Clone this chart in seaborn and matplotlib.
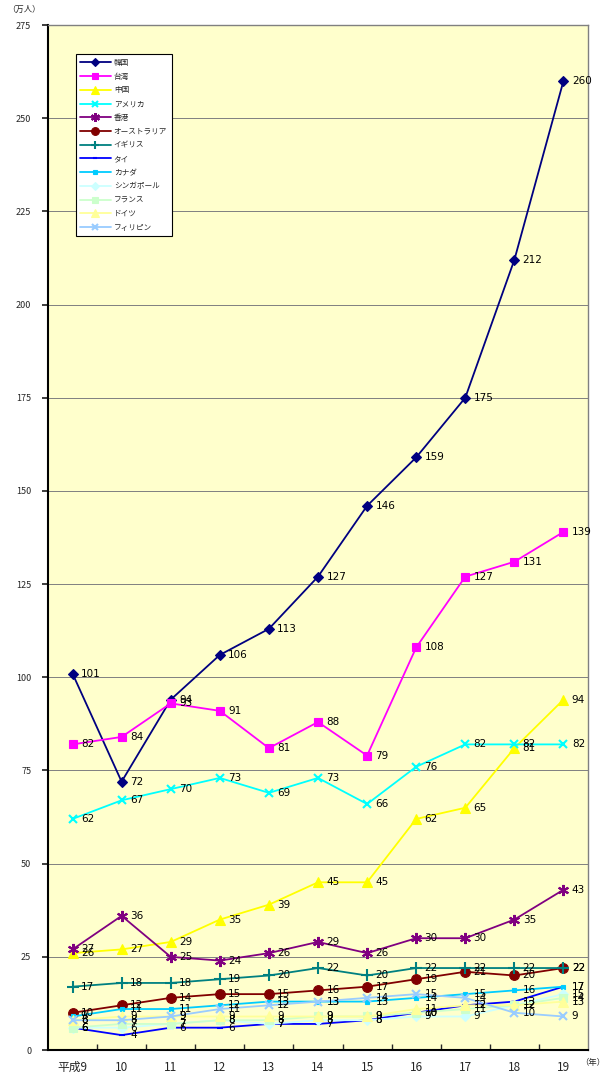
import matplotlib
matplotlib.use("Agg")
import matplotlib.pyplot as plt
import seaborn as sns
import pandas as pd

years = [9, 10, 11, 12, 13, 14, 15, 16, 17, 18, 19]
year_labels = ["平成9", "10", "11", "12", "13", "14", "15", "16", "17", "18", "19"]

korea = [101, 72, 94, 106, 113, 127, 146, 159, 175, 212, 260]
taiwan = [82, 84, 93, 91, 81, 88, 79, 108, 127, 131, 139]
china = [26, 27, 29, 35, 39, 45, 45, 62, 65, 81, 94]
usa = [62, 67, 70, 73, 69, 73, 66, 76, 82, 82, 82]
hongkong = [27, 36, 25, 24, 26, 29, 26, 30, 30, 35, 43]
australia = [10, 12, 14, 15, 15, 16, 17, 19, 21, 20, 22]
uk = [17, 18, 18, 19, 20, 22, 20, 22, 22, 22, 22]
thailand = [6, 4, 6, 6, 7, 7, 8, 10, 12, 13, 17]
canada = [9, 11, 11, 12, 13, 13, 13, 14, 15, 16, 17]
singapore = [6, 6, 7, 8, 7, 8, 8, 9, 9, 12, 15]
france = [6, 7, 7, 8, 8, 9, 9, 10, 11, 12, 14]
germany = [8, 9, 9, 9, 9, 9, 9, 11, 12, 12, 13]
philippines = [8, 8, 9, 11, 12, 13, 14, 15, 14, 10, 9]

series_names = ["韓国", "台湾", "中国", "アメリカ", "香港", "オーストラリア", "イギリス",
                "タイ", "カナダ", "シンガポール", "フランス", "ドイツ", "フィリピン"]
series_values = [korea, taiwan, china, usa, hongkong, australia, uk,
                 thailand, canada, singapore, france, germany, philippines]

styles = {
    "韓国": dict(color="#000080", marker="D", ms=5),
    "台湾": dict(color="#FF00FF", marker="s", ms=6),
    "中国": dict(color="#FFFF00", marker="^", ms=7),
    "アメリカ": dict(color="#00FFFF", marker="x", ms=6),
    "香港": dict(color="#800080", marker=(6, 2, 0), ms=8),
    "オーストラリア": dict(color="#800000", marker="o", ms=7),
    "イギリス": dict(color="#008080", marker="+", ms=8),
    "タイ": dict(color="#0000FF", marker="_", ms=4),
    "カナダ": dict(color="#00CCFF", marker="s", ms=3.5),
    "シンガポール": dict(color="#CCFFFF", marker="D", ms=5),
    "フランス": dict(color="#CCFFCC", marker="s", ms=6),
    "ドイツ": dict(color="#FFFF99", marker="^", ms=7),
    "フィリピン": dict(color="#99CCFF", marker="x", ms=6),
}

sns.set_theme(style="white")
plt.rcParams["font.family"] = ["Noto Sans CJK JP", "DejaVu Sans"]

fig = plt.figure(figsize=(6.12, 10.73), dpi=100)
fig.patch.set_facecolor("white")
ax = fig.add_axes([0.0784, 0.0214, 0.8824, 0.9553])
ax.set_facecolor("#FFFFCC")

for name, vals in zip(series_names, series_values):
    st = styles[name]
    df = pd.DataFrame({"year": years, "value": vals})
    mew = 1.5 if st["marker"] in ("x", "+", (6, 2, 0), "_") else 0.8
    sns.lineplot(data=df, x="year", y="value", ax=ax, color=st["color"],
                 marker=st["marker"], markersize=st["ms"], markeredgecolor=st["color"],
                 markerfacecolor=st["color"], markeredgewidth=mew, linewidth=1.3,
                 label=name, zorder=3)
    for xv, yv in zip(years, vals):
        ax.text(xv + 0.17, yv, str(yv), fontsize=7.5, va="center", ha="left",
                color="black", zorder=4, family=["DejaVu Sans"])

ax.set_xlim(8.5, 19.5)
ax.set_ylim(0, 275)
ax.set_yticks(range(0, 276, 25))
ax.set_xticks(years)
ax.set_xticklabels(year_labels, fontsize=8.5)
ax.tick_params(axis="y", labelsize=6.5, length=4, direction="out", left=True, pad=8)
ax.tick_params(axis="x", length=0, pad=8)
ax.set_xticks([y + 0.5 for y in years[:-1]], minor=True)
ax.tick_params(axis="x", which="minor", length=4, direction="in", bottom=True)
ax.grid(axis="y", color="#808080", linewidth=0.7)
ax.set_axisbelow(True)
ax.set_xlabel("")
ax.set_ylabel("")
for sp in ["left", "bottom"]:
    ax.spines[sp].set_color("black")
    ax.spines[sp].set_linewidth(1.5)
for sp in ["top", "right"]:
    ax.spines[sp].set_color("#808080")
    ax.spines[sp].set_linewidth(1.0)

fig.text(0.04, 0.991, "（万人）", fontsize=6, ha="center", va="center")
fig.text(0.948, 0.010, "（年）", fontsize=6, ha="left", va="center")

leg = ax.legend(loc="upper left", bbox_to_anchor=(0.044, 0.975), fontsize=5.5,
                frameon=True, fancybox=False, edgecolor="black", framealpha=1,
                handlelength=4, borderpad=0.6, labelspacing=0.75, handletextpad=0.4,
                markerscale=0.8)
leg.get_frame().set_linewidth(0.8)
leg.get_frame().set_facecolor("white")

fig.savefig("out.png", dpi=100)
